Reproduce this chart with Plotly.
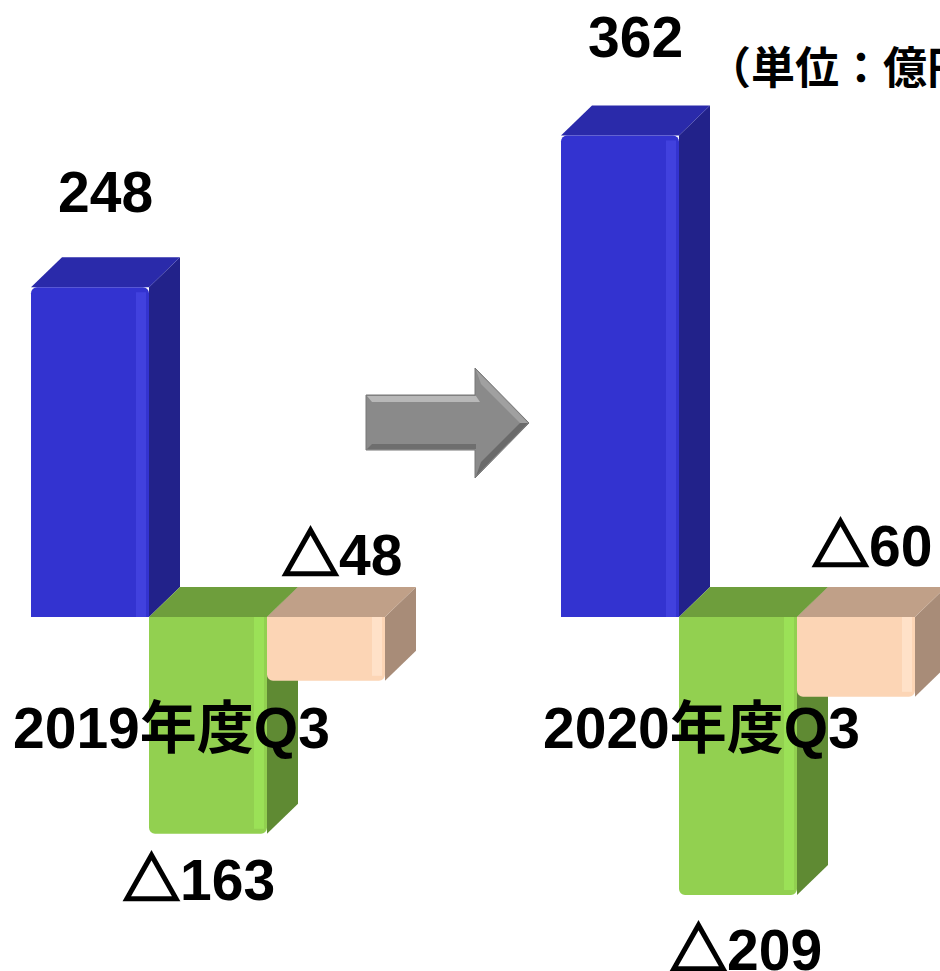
import plotly.graph_objects as go

# ---- data ----
categories = ["2019年度Q3", "2020年度Q3"]
blue_values = [248, 362]
green_values = [-163, -209]
peach_values = [-48, -60]
unit_label = "（単位：億円）"

# ---- style ----
W, H = 940, 971
ZERO_PX = 617          # zero line from top
PX_PER_UNIT = 1.33
GROUP0_PX = 208
GROUP_STEP_PX = 530
BAR_W = 118 / GROUP_STEP_PX
DX = 31 / GROUP_STEP_PX
DY = 30 / PX_PER_UNIT
HI_W = 10 / GROUP_STEP_PX

y_max = ZERO_PX / PX_PER_UNIT
y_min = -(H - ZERO_PX) / PX_PER_UNIT
x_min = -GROUP0_PX / GROUP_STEP_PX
x_max = (W - GROUP0_PX) / GROUP_STEP_PX

FONT = "Liberation Sans, Arial, Noto Sans CJK JP, sans-serif"
TRI = ('<span style="font-family:\'Noto Sans CJK JP\';stroke:black;'
       'stroke-width:2.5px;stroke-linejoin:miter">△</span>')

series = [
    dict(name="blue", values=blue_values, offset=-BAR_W,
         front="#3333D0", top="#2A2AAA", side="#22228A", hi="rgba(80,80,235,0.5)"),
    dict(name="green", values=green_values, offset=0.0,
         front="#92D050", top="#6E9E3C", side="#5F8A33", hi="rgba(160,232,90,0.7)"),
    dict(name="peach", values=peach_values, offset=BAR_W,
         front="#FCD5B5", top="#C0A088", side="#A88C78", hi="rgba(255,228,205,0.8)"),
]

fig = go.Figure()
shapes = []

for s in series:
    fig.add_trace(go.Bar(
        x=categories, y=s["values"], name=s["name"],
        marker=dict(color=s["front"], line=dict(width=0), cornerradius=6),
        showlegend=False, hoverinfo="skip",
    ))
    for i, v in enumerate(s["values"]):
        c = i + s["offset"]
        x0, x1 = c - BAR_W / 2, c + BAR_W / 2
        # side face
        shapes.append(dict(
            type="path", xref="x", yref="y", layer="below",
            path=f"M{x1},{0} L{x1},{v} L{x1+DX},{v+DY} L{x1+DX},{DY} Z",
            fillcolor=s["side"], line=dict(width=0)))
        # top face
        yt = v if v > 0 else 0
        shapes.append(dict(
            type="path", xref="x", yref="y", layer="below",
            path=f"M{x0},{yt} L{x1},{yt} L{x1+DX},{yt+DY} L{x0+DX},{yt+DY} Z",
            fillcolor=s["top"], line=dict(width=0)))
        # highlight strip near the right edge of the front face
        inset = 5 / PX_PER_UNIT
        shapes.append(dict(
            type="rect", xref="x", yref="y", layer="above",
            x0=x1 - HI_W - 3 / GROUP_STEP_PX, x1=x1 - 3 / GROUP_STEP_PX,
            y0=0, y1=v - inset if v > 0 else v + inset,
            fillcolor=s["hi"], line=dict(width=0)))

# gray arrow (decoration) in pixel space -> paper
def P(px, py):
    return f"{px / W},{1 - py / H}"

arrow_pts = [(366, 395), (475, 395), (475, 368), (529, 423), (475, 478), (475, 450), (366, 450)]
shapes.append(dict(
    type="path", xref="paper", yref="paper", layer="above",
    path="M" + " L".join(P(*p) for p in arrow_pts) + " Z",
    fillcolor="#8A8A8A", line=dict(color="#777777", width=1)))
shapes.append(dict(
    type="path", xref="paper", yref="paper", layer="above",
    path="M" + " L".join(P(*p) for p in [(367, 396), (476, 396), (480, 402), (372, 402)]) + " Z",
    fillcolor="#B8B8B8", line=dict(width=0)))
shapes.append(dict(
    type="path", xref="paper", yref="paper", layer="above",
    path="M" + " L".join(P(*p) for p in [(372, 444), (476, 444), (476, 449), (367, 449)]) + " Z",
    fillcolor="#6E6E6E", line=dict(width=0)))
shapes.append(dict(
    type="path", xref="paper", yref="paper", layer="above",
    path="M" + " L".join(P(*p) for p in [(476, 370), (528, 423), (520, 423), (481, 384)]) + " Z",
    fillcolor="#A0A0A0", line=dict(width=0)))
shapes.append(dict(
    type="path", xref="paper", yref="paper", layer="above",
    path="M" + " L".join(P(*p) for p in [(520, 423), (528, 423), (476, 476), (481, 462)]) + " Z",
    fillcolor="#6A6A6A", line=dict(width=0)))

annotations = []
fs = 57
bold = dict(size=fs, family=FONT, color="black", weight="bold")

# blue labels above bars
for i, v in enumerate(blue_values):
    annotations.append(dict(
        x=i - BAR_W + DX / 2, y=v, xref="x", yref="y", text=f"{v}",
        showarrow=False, yshift=[95, 99][i], xanchor="center", yanchor="middle",
        font=bold))
# peach labels
for i, v in enumerate(peach_values):
    annotations.append(dict(
        x=i + BAR_W + DX / 2, y=0, xref="x", yref="y", text=f"{TRI}{abs(v)}",
        showarrow=False, yshift=[67, 76][i], xanchor="center", yanchor="middle",
        font=bold))
# green labels below bars
for i, v in enumerate(green_values):
    annotations.append(dict(
        x=i, y=v, xref="x", yref="y", text=f"{TRI}{abs(v)}",
        showarrow=False, yshift=[-41, -50][i], xshift=[-9, 8][i],
        xanchor="center", yanchor="middle", font=bold))
# category labels
for i, c in enumerate(categories):
    annotations.append(dict(
        x=i, y=0, xref="x", yref="y", text=c,
        showarrow=False, yshift=-111, xshift=-37,
        xanchor="center", yanchor="middle", font=bold))
# unit
annotations.append(dict(
    x=705 / W, y=1 - 65 / H, xref="paper", yref="paper", text=unit_label,
    showarrow=False, xanchor="left", yanchor="middle",
    font=dict(size=44, family="Noto Sans CJK JP, sans-serif", color="black", weight="bold")))

fig.update_layout(
    width=W, height=H,
    margin=dict(l=0, r=0, t=0, b=0),
    paper_bgcolor="white", plot_bgcolor="rgba(0,0,0,0)",
    barmode="group", bargap=1 - 3 * BAR_W, bargroupgap=0,
    xaxis=dict(range=[x_min, x_max], visible=False, type="category"),
    yaxis=dict(range=[y_min, y_max], visible=False, zeroline=False),
    shapes=shapes, annotations=annotations,
)

fig.write_html(
    "out.html",
    config={"displayModeBar": False},
    post_script="document.body.style.margin='0';document.body.style.overflow='hidden';",
)
